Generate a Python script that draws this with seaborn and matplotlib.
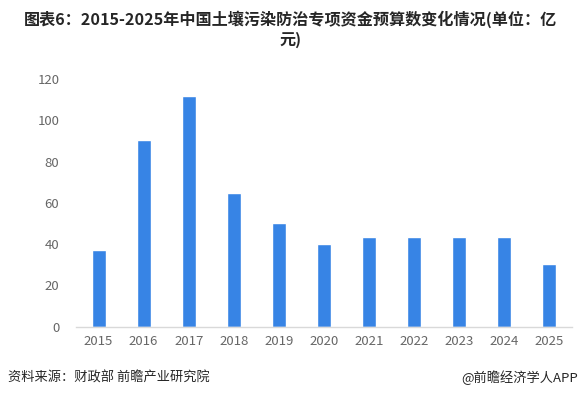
import numpy as np
import pandas as pd
import seaborn as sns
import matplotlib.pyplot as plt

years = ['2015', '2016', '2017', '2018', '2019', '2020',
         '2021', '2022', '2023', '2024', '2025']
budget = [37, 90.5, 112, 65, 50, 40, 43.5, 43.5, 43.5, 43.5, 30.5]
yticks = [0, 20, 40, 60, 80, 100, 120]

title = '图表6：2015-2025年中国土壤污染防治专项资金预算数变化情况(单位：亿\n元)'
source = '资料来源：财政部 前瞻产业研究院'
brand = '@前瞻经济学人APP'

sns.set_theme(style='white')
plt.rcParams['font.family'] = ['Noto Sans CJK SC', 'DejaVu Sans']

df = pd.DataFrame({'year': years, 'budget': budget})

fig = plt.figure(figsize=(5.81, 3.97), dpi=100)
ax = fig.add_axes([76 / 581, 1 - 326.7 / 397, 496 / 581, 247.7 / 397])

sns.barplot(data=df, x='year', y='budget', color='#3784e5', width=0.31,
            saturation=1, ax=ax)

ax.set_xlim(-0.5, len(years) - 0.5)
ax.set_ylim(0, 120)
ax.set_yticks(yticks)
ax.set_xlabel('')
ax.set_ylabel('')
for s in ['top', 'right', 'left']:
    ax.spines[s].set_visible(False)
ax.spines['bottom'].set_color('#d9d9d9')
ax.spines['bottom'].set_linewidth(1)
ax.tick_params(axis='both', length=0, labelsize=9.5, labelcolor='#666666')
ax.tick_params(axis='y', pad=12)
ax.tick_params(axis='x', pad=6)

fig.text(0.5, 1 - 29 / 397, title, ha='center', va='center', fontsize=11.6,
         fontweight='bold', color='#262626', linespacing=1.25)
fig.text(8 / 581, 1 - 378 / 397, source, ha='left', va='center',
         fontsize=9.5, color='#262626')
fig.text(578 / 581, 1 - 378 / 397, brand, ha='right', va='center',
         fontsize=9.5, color='#262626')

fig.savefig('out.png', dpi=100)
